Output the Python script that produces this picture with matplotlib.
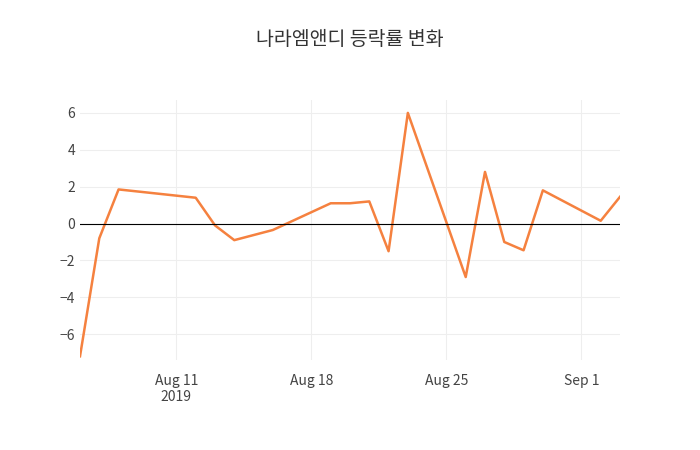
import matplotlib.pyplot as plt
import pandas as pd

dates = ["2019-08-06", "2019-08-07", "2019-08-08", "2019-08-12", "2019-08-13",
         "2019-08-14", "2019-08-16", "2019-08-19", "2019-08-20", "2019-08-21",
         "2019-08-22", "2019-08-23", "2019-08-26", "2019-08-27", "2019-08-28",
         "2019-08-29", "2019-08-30", "2019-09-02", "2019-09-03"]
change = [-7.2, -0.8, 1.85, 1.4, -0.1, -0.9, -0.35, 1.1, 1.1, 1.2,
          -1.5, 6.0, -2.9, 2.8, -1.0, -1.45, 1.8, 0.15, 1.45]
tick_dates = ["2019-08-11", "2019-08-18", "2019-08-25", "2019-09-01"]
tick_labels = ["Aug 11\n2019", "Aug 18", "Aug 25", "Sep 1"]

x = pd.to_datetime(dates)
plt.rcParams["font.family"] = ["sans-serif"]
plt.rcParams["font.sans-serif"] = ["Noto Sans CJK KR", "Noto Sans CJK JP", "Noto Sans CJK SC",
                                   "Noto Sans CJK TC", "DejaVu Sans"]
fig = plt.figure(figsize=(7, 4.5), dpi=100)
ax = fig.add_axes([80 / 700, 90 / 450, 540 / 700, 260 / 450])
ax.plot(x, change, color="#F5813F", linewidth=1.8)
ax.axhline(0, color="black", linewidth=0.8)
ax.set_xlim(x[0], x[-1])
ax.set_ylim(-7.4, 6.7)
ax.set_yticks([-6, -4, -2, 0, 2, 4, 6])
ax.set_xticks(pd.to_datetime(tick_dates))
ax.set_xticklabels(tick_labels)
ax.grid(True, color="#eeeeee", linewidth=0.8)
ax.set_axisbelow(True)
for s in ax.spines.values():
    s.set_visible(False)
ax.tick_params(length=0, labelsize=10, colors="#444444")
ax.tick_params(axis="x", pad=10)
fig.suptitle("나라엠앤디 등락률 변화", y=0.935, fontsize=14, color="#333333")
fig.savefig("out.png", dpi=100)
